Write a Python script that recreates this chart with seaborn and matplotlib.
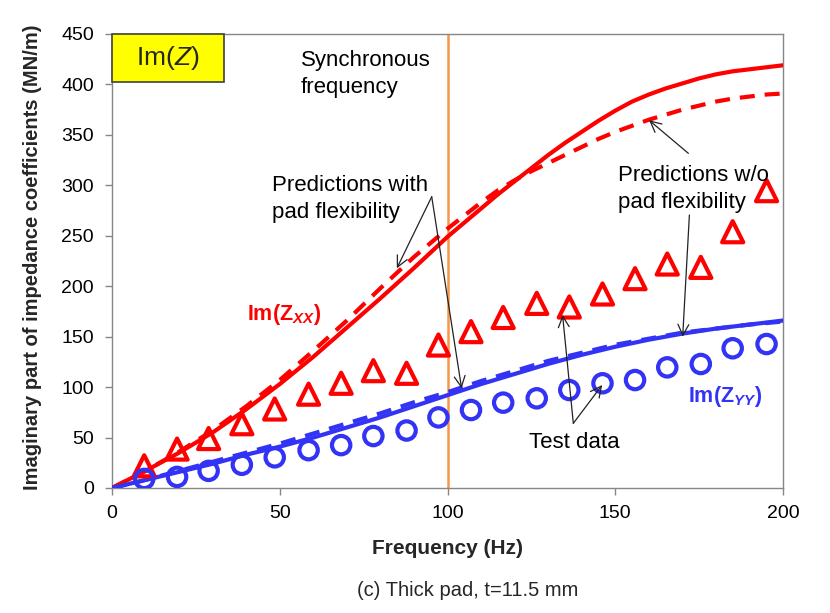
import numpy as np
import pandas as pd
import seaborn as sns
import matplotlib.pyplot as plt
from matplotlib.patches import Rectangle

sns.set_theme(style="ticks")
plt.rcParams['font.family'] = ['Liberation Sans', 'DejaVu Sans']
plt.rcParams['mathtext.fontset'] = 'custom'
plt.rcParams['mathtext.rm'] = 'Liberation Sans'
plt.rcParams['mathtext.it'] = 'Liberation Sans:italic'
plt.rcParams['mathtext.bf'] = 'Liberation Sans:bold'
plt.rcParams['mathtext.bfit'] = 'Liberation Sans:bold:italic'

# Predicted Im(Zxx) (MN/m) vs frequency (Hz)
freq_xx = [0, 10, 20, 30, 40, 50, 60, 70, 80, 90, 100,
           105, 110, 115, 120, 125, 130, 135, 140, 145, 150,
           155, 160, 165, 170, 175, 180, 185, 190, 195, 200]
zxx_flex = [0, 17, 35, 55, 78, 103, 130, 159, 188, 218, 249,
            263, 277, 291, 304, 317, 330, 342, 353, 364, 374,
            383, 390, 396, 401, 406, 410, 413, 415, 417, 419]
zxx_rigid = [0, 17, 36, 57, 81, 107, 136, 166, 198, 229, 257,
             270, 283, 295, 305, 314, 322, 330, 338, 346, 353,
             359, 365, 370, 375, 379, 383, 386, 388, 390, 391]

# Predicted Im(Zyy) (MN/m) vs frequency (Hz)
freq_yy = [0, 10, 20, 30, 40, 50, 60, 70, 80, 90, 100,
           110, 120, 130, 140, 150, 160, 170, 180, 190, 200]
zyy_flex = [0, 8, 16, 24, 33, 41, 50, 60, 70, 81, 92,
            103, 113, 123, 132, 140, 147, 153, 158, 162, 166]
zyy_rigid = [0, 8, 17, 26, 35, 44, 54, 64, 74, 85, 95,
             106, 116, 126, 134, 142, 148, 154, 158, 162, 165]

# Measured test data
freq_test = [9.6, 19.4, 28.8, 38.7, 48.5, 58.6, 68.3, 77.9, 87.8, 97.3,
             107.0, 116.6, 126.6, 136.3, 146.2, 155.9, 165.5, 175.5, 185.0, 195.1]
zxx_test = [22, 38.6, 49, 63.7, 78.3, 93, 103.8, 116.3, 113.7, 141.7,
            155, 169, 183, 179.4, 192.3, 207.5, 222, 218.7, 254, 294.7]
zyy_test = [9, 11, 17, 23, 30.4, 37.5, 42.5, 51.5, 57, 70,
            77.3, 84.6, 88.9, 97.1, 103.8, 107, 119.6, 122.9, 138.5, 142.7]

sync_freq = 100

RED = '#FF0000'
BLUE = '#3333F5'
ORANGE = '#F79646'
GRAY = '#868686'

pred_xx = pd.DataFrame({'freq': freq_xx, 'flex': zxx_flex, 'rigid': zxx_rigid})
pred_yy = pd.DataFrame({'freq': freq_yy, 'flex': zyy_flex, 'rigid': zyy_rigid})
test = pd.DataFrame({'freq': freq_test, 'zxx': zxx_test, 'zyy': zyy_test})

fig = plt.figure(figsize=(8.3, 6.13), dpi=100)
ax = fig.add_axes([112 / 830, 1 - 488 / 613, 671 / 830, 454 / 613])

ax.axvline(sync_freq, color=ORANGE, lw=1.8, zorder=1)

for df, col in [(pred_xx, RED), (pred_yy, BLUE)]:
    sns.lineplot(data=df, x='freq', y='flex', ax=ax, color=col, lw=3.0, zorder=3)
    sns.lineplot(data=df, x='freq', y='rigid', ax=ax, color=col, lw=3.0,
                 zorder=3).lines[-1].set_dashes([3.6, 2.4])

sns.scatterplot(data=test, x='freq', y='zxx', ax=ax, marker='^', s=230,
                facecolors='none', edgecolor=RED, linewidth=3.0, zorder=4)
sns.scatterplot(data=test, x='freq', y='zyy', ax=ax, marker='o', s=175,
                facecolors='none', edgecolor=BLUE, linewidth=3.0, zorder=4)

ax.set_xlim(0, 200)
ax.set_ylim(0, 450)
ax.set_xticks(np.arange(0, 201, 50))
ax.set_yticks(np.arange(0, 451, 50))
for s in ax.spines.values():
    s.set_color(GRAY)
    s.set_linewidth(1.0)
ax.tick_params(axis='both', direction='out', length=5, width=1, color=GRAY,
               labelsize=14, labelcolor='black')
ax.tick_params(axis='y', pad=8)
ax.tick_params(axis='x', pad=7)

ax.set_xlabel('Frequency (Hz)', fontsize=15, fontweight='bold')
ax.xaxis.label.set_va('center')
ax.xaxis.set_label_coords(0.5, (488 - 548) / 454)
ax.set_ylabel('Imaginary part of impedance coefficients (MN/m)', fontsize=14.5,
              fontweight='bold')
ax.yaxis.label.set_va('center')
ax.yaxis.set_label_coords((33 - 112) / 671, (488 - 257) / 454)

# Title box in the corner
ax.add_patch(Rectangle((0, 1 - 48 / 454), 112 / 671, 48 / 454, transform=ax.transAxes,
                       facecolor='#FFFF00', edgecolor='#404040', lw=1.2, zorder=5,
                       clip_on=False))
ax.text(56 / 671, 1 - 24 / 454, r'Im($\it{Z}$)', transform=ax.transAxes, fontsize=19,
        ha='center', va='center', zorder=6)

txt = dict(fontsize=16, color='black', ha='left', va='center', linespacing=1.35, zorder=6)
ax.text(56.3, 410.3, 'Synchronous\nfrequency', **txt)
ax.text(47.6, 286.5, 'Predictions with\npad flexibility', **txt)
ax.text(150.8, 296.5, 'Predictions w/o\npad flexibility', **txt)
ax.text(124.3, 44.9, 'Test data', **txt)

ax.text(40.1, 171.5, r'$\mathbf{Im(Z}_{\mathbfit{XX}}\mathbf{)}$', fontsize=15.5,
        color=RED, ha='left', va='center', zorder=6)
ax.text(171.7, 90.5, r'$\mathbf{Im(Z}_{\mathbfit{YY}}\mathbf{)}$', fontsize=15.5,
        color=BLUE, ha='left', va='center', zorder=6)

arrow = dict(arrowstyle='->,head_length=0.6,head_width=0.3', color='#222222', lw=0.9,
             shrinkA=0, shrinkB=0, mutation_scale=13)
for origin, tip in [((95.3, 288.7), (84.9, 217.8)),
                    ((95.3, 288.7), (104.2, 98.8)),
                    ((171.8, 331.7), (160.1, 364.5)),
                    ((172.1, 270.6), (170.1, 150.0)),
                    ((137.5, 64.1), (134.3, 171.5)),
                    ((137.5, 64.1), (146.1, 102.1))]:
    ax.annotate('', xy=tip, xytext=origin, arrowprops=arrow, zorder=6)

fig.text(468 / 830, 1 - 591 / 613, '(c) Thick pad, t=11.5 mm', fontsize=14.5,
         ha='center', va='center')

fig.savefig('out.png', dpi=100)
